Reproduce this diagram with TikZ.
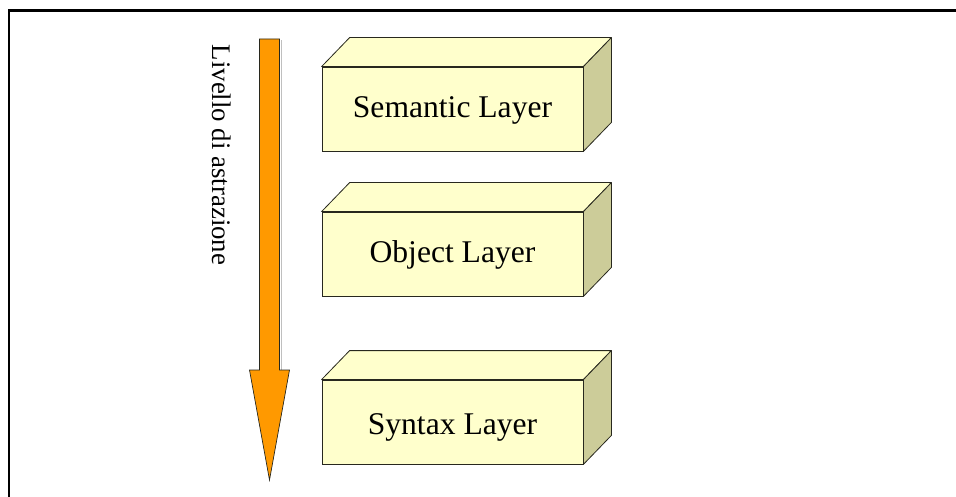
\documentclass[tikz,border=0pt]{standalone}
\usepackage{fontspec}
\setmainfont{Liberation Serif}
\definecolor{boxfront}{RGB}{255,255,204}
\definecolor{boxside}{RGB}{204,204,153}
\definecolor{boxline}{RGB}{40,40,30}
\definecolor{arroworange}{RGB}{255,153,0}
\tikzset{
  layerbox/.style={draw=boxline, fill=boxfront, line width=0.8pt,
    minimum width=261pt, minimum height=84pt, inner sep=0pt},
  layertext/.style={font=\fontsize{31.6}{36}\selectfont, inner sep=0pt},
}
% a box: front face node, top and right faces, and its caption
\newcommand{\layerblock}[4]{%
  \node[layerbox] (#1) at (#2) {};
  \fill[boxfront, draw=boxline, line width=0.8pt, line join=round]
    (#1.north west) -- ++(28pt,29pt) -- ([shift={(28pt,29pt)}]#1.north east) -- (#1.north east) -- cycle;
  \fill[boxside, draw=boxline, line width=0.8pt, line join=round]
    (#1.north east) -- ++(28pt,29pt) -- ([shift={(28pt,29pt)}]#1.south east) -- (#1.south east) -- cycle;
  \node[layertext] (#1-text) at ([yshift=#4]#1.center) {#3};
}
\begin{document}
\begin{tikzpicture}[x=1pt, y=-1pt]
  \useasboundingbox (0,0) rectangle (956,497);
  % outer frame (open on the right and bottom)
  \begin{scope}
    \clip (0,0) rectangle (956,497);
    \draw[line width=2.2pt] (9,505) -- (9,10.5) -- (965,10.5);
  \end{scope}

  % abstraction arrow
  \fill[gray!50] (280.5,40) rectangle (281.3,370);
  \draw[fill=arroworange, draw=boxline, line width=0.7pt, line join=miter]
    (259.5,39) -- (279.5,39) -- (279.5,370) -- (289.5,370) -- (269.5,480)
    -- (249.5,370) -- (259.5,370) -- cycle;
  \node[rotate=-90, font=\fontsize{26.8}{30}\selectfont] (lbl) at (222,155) {Livello di astrazione};

  % layers
  \layerblock{sem}{452.5,109}{Semantic Layer}{-1pt}
  \layerblock{obj}{452.5,254}{Object Layer}{-1pt}
  \layerblock{syn}{452.5,422}{Syntax Layer}{-5pt}
\end{tikzpicture}
\end{document}
